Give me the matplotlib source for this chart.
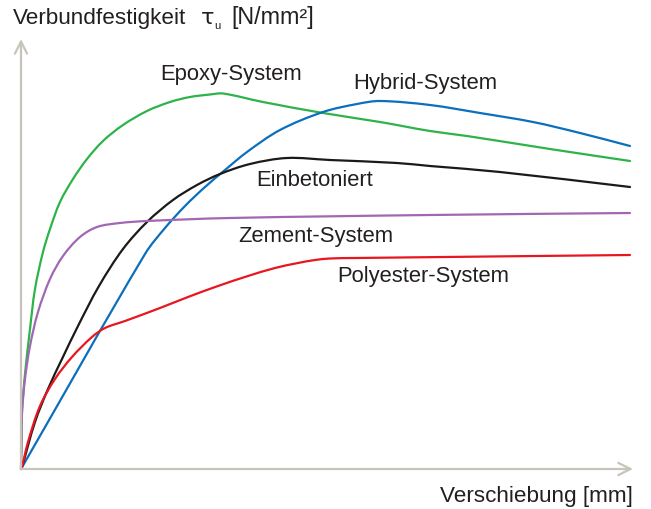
#!/usr/bin/env python3

import numpy as np
import matplotlib.pyplot as plt
from matplotlib.path import Path
from matplotlib.patches import PathPatch

plt.rcParams['font.family'] = ['Liberation Sans', 'DejaVu Sans']

epoxy_x = [0, 0.5, 1, 4, 9, 14, 22, 29, 39, 52, 66, 82, 102, 126, 149, 169, 189, 202,
           242, 302, 359, 409, 446, 529, 609]
epoxy_y = [0, 25, 57, 95, 140, 180, 217, 240, 267, 290, 310, 328, 344, 358, 367, 372, 374.5, 375.5,
           367, 356, 347, 338, 333, 320, 308]

hybrid_x = [0, 124, 144, 164, 184, 204, 226, 259, 302, 336, 359, 409, 459, 512, 559, 609]
hybrid_y = [0, 215, 241, 263, 282, 299, 317, 339, 357, 365, 368, 364, 356, 347, 336, 323]

beton_x = [0, 1, 14, 27, 41, 57, 78, 102, 126, 152, 176, 199, 229, 266, 309, 376, 409, 479, 609]
beton_y = [0, 2, 47, 80, 110, 143, 183, 220, 247, 269, 284, 295, 305, 311, 309, 306, 303, 297, 282]

zement_x = [0, 0.5, 1, 4, 9, 17, 29, 42, 59, 76, 99, 126, 209, 409, 609]
zement_y = [0, 30, 57, 90, 123, 157, 190, 213, 232, 242, 246, 248, 251, 254, 256]

poly_x = [0, 1, 7, 19, 34, 51, 71, 84, 104, 139, 167, 197, 227, 254, 277, 294, 309, 334, 609]
poly_y = [0, 2, 27, 63, 90, 112, 132, 141, 148, 161, 172, 183, 193, 201, 206, 209, 210.5, 211, 214]

series = [
    ("Epoxy-System", epoxy_x, epoxy_y, "#2db34a", (210, 395)),
    ("Hybrid-System", hybrid_x, hybrid_y, "#0a6fbd", (404, 386)),
    ("Einbetoniert", beton_x, beton_y, "#1a1a1a", (294, 289)),
    ("Zement-System", zement_x, zement_y, "#a267b3", (295, 233)),
    ("Polyester-System", poly_x, poly_y, "#e8161f", (402, 193)),
]

axis_grey = "#c8c4bc"
text_col = '#231f20'


def smooth_path(xs, ys):
    # glatte Kurve durch die Punkte (Bezier-Segmente, Tangenten nach Sehnenlaenge)
    p = np.column_stack([xs, ys]).astype(float)
    d = np.hypot(*np.diff(p, axis=0).T)
    t = np.concatenate([[0], np.cumsum(d)])
    n = len(p)
    m = np.zeros_like(p)
    m[0] = (p[1] - p[0]) / (t[1] - t[0])
    m[-1] = (p[-1] - p[-2]) / (t[-1] - t[-2])
    for i in range(1, n - 1):
        m[i] = (p[i + 1] - p[i - 1]) / (t[i + 1] - t[i - 1])
    verts = [p[0]]
    codes = [Path.MOVETO]
    for i in range(n - 1):
        h = t[i + 1] - t[i]
        verts += [p[i] + m[i] * h / 3, p[i + 1] - m[i + 1] * h / 3, p[i + 1]]
        codes += [Path.CURVE4] * 3
    return Path(verts, codes)


def main():
    fig = plt.figure(figsize=(6.51, 5.10), dpi=100)
    ax = fig.add_axes([21 / 651, 40 / 510, 612 / 651, 430 / 510])
    ax.set_xlim(0, 612)
    ax.set_ylim(0, 430)
    ax.axis('off')

    for name, xs, ys, col, pos in series:
        ax.add_patch(PathPatch(smooth_path(xs, ys), facecolor='none', edgecolor=col,
                               lw=1.6, joinstyle='round', capstyle='round', clip_on=False))
        ax.text(pos[0], pos[1], name, fontsize=15.8, color=text_col,
                ha='center', va='center')

    # Achsen mit Pfeilen
    arrow = dict(arrowstyle='->', color=axis_grey, lw=1.6,
                 mutation_scale=22, shrinkA=0, shrinkB=0)
    ax.annotate('', xy=(612, 0), xytext=(0, 0), arrowprops=arrow,
                annotation_clip=False)
    ax.annotate('', xy=(0, 430), xytext=(0, 0), arrowprops=arrow,
                annotation_clip=False)

    # Achsenbeschriftung y (in Teilen, wie im Original)
    W, H = 651, 510
    fig.text(13 / W, 1 - 24 / H, "Verbundfestigkeit", fontsize=16.2,
             color=text_col, ha='left', va='baseline')
    fig.text(201 / W, 1 - 24 / H, "τ", fontsize=16, family='DejaVu Sans',
             color=text_col, ha='left', va='baseline')
    fig.text(214 / W, 1 - 29 / H, "u", fontsize=8,
             color=text_col, ha='left', va='baseline')
    fig.text(231 / W, 1 - 24 / H, "[N/mm²]", fontsize=16.8,
             color=text_col, ha='left', va='baseline')

    fig.text(633 / W, 1 - 497 / H, "Verschiebung [mm]",
             fontsize=16.2, color=text_col, ha='right', va='center')

    fig.savefig('out.png', dpi=100)


if __name__ == "__main__":
    main()
